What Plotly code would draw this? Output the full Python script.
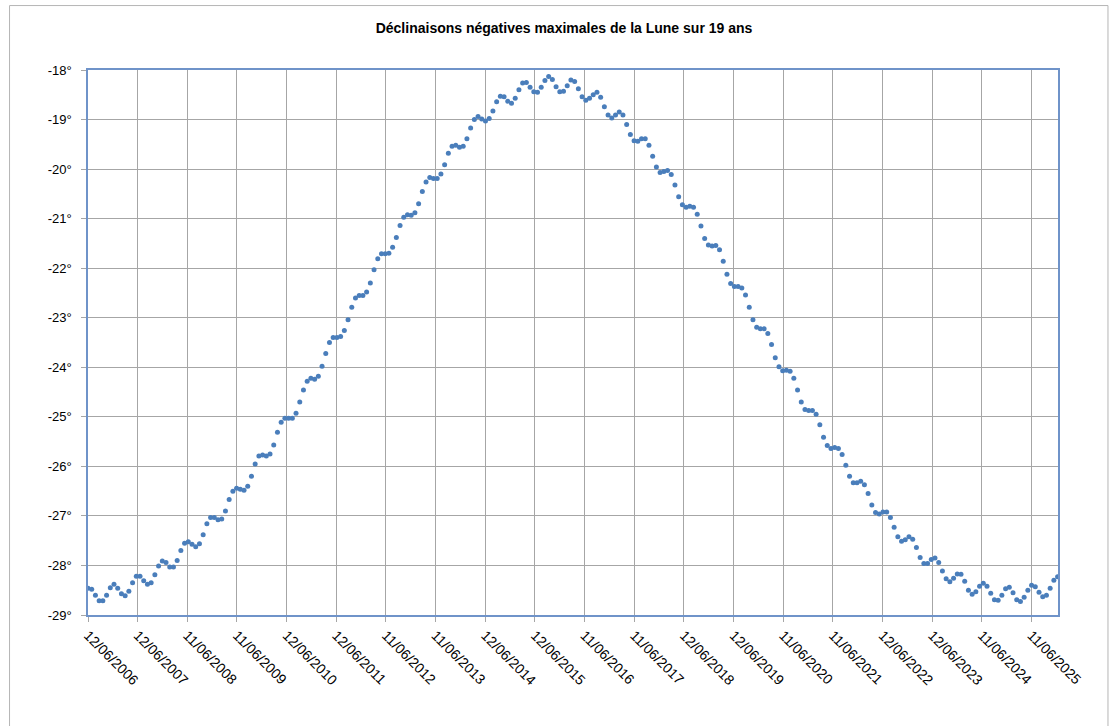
import pandas as pd
import plotly.graph_objects as go

# ---- data ----
start_date = "2006-06-12"
period_days = 27.3216  # one point per tropical month

declinations = [
    -28.46, -28.48, -28.60, -28.71, -28.71, -28.60, -28.45, -28.38, -28.46, -28.57,
    -28.61, -28.52, -28.35, -28.22, -28.22, -28.31, -28.38, -28.35, -28.19, -28.01,
    -27.91, -27.94, -28.03, -28.03, -27.90, -27.70, -27.55, -27.52, -27.57, -27.62,
    -27.56, -27.38, -27.16, -27.03, -27.03, -27.08, -27.06, -26.90, -26.67, -26.50,
    -26.44, -26.46, -26.48, -26.40, -26.20, -25.95, -25.79, -25.77, -25.79, -25.75,
    -25.57, -25.31, -25.11, -25.03, -25.03, -25.03, -24.93, -24.70, -24.46, -24.28,
    -24.22, -24.24, -24.18, -23.98, -23.72, -23.50, -23.40, -23.40, -23.38, -23.26,
    -23.04, -22.79, -22.60, -22.55, -22.55, -22.48, -22.30, -22.03, -21.81, -21.71,
    -21.71, -21.70, -21.58, -21.38, -21.14, -20.97, -20.92, -20.93, -20.88, -20.70,
    -20.45, -20.26, -20.17, -20.19, -20.19, -20.10, -19.91, -19.68, -19.54, -19.52,
    -19.56, -19.54, -19.39, -19.17, -19.00, -18.94, -18.99, -19.03, -18.98, -18.83,
    -18.64, -18.53, -18.54, -18.63, -18.67, -18.57, -18.40, -18.26, -18.25, -18.35,
    -18.44, -18.45, -18.35, -18.21, -18.13, -18.19, -18.34, -18.44, -18.43, -18.32,
    -18.20, -18.23, -18.38, -18.54, -18.61, -18.57, -18.50, -18.45, -18.55, -18.74,
    -18.91, -18.97, -18.91, -18.85, -18.91, -19.10, -19.30, -19.43, -19.44, -19.39,
    -19.39, -19.52, -19.74, -19.96, -20.07, -20.05, -20.03, -20.11, -20.32, -20.56,
    -20.72, -20.77, -20.75, -20.77, -20.91, -21.15, -21.40, -21.53, -21.55, -21.54,
    -21.63, -21.86, -22.12, -22.31, -22.37, -22.37, -22.40, -22.54, -22.79, -23.04,
    -23.19, -23.22, -23.22, -23.32, -23.54, -23.81, -23.99, -24.07, -24.06, -24.08,
    -24.22, -24.46, -24.70, -24.85, -24.87, -24.87, -24.95, -25.16, -25.41, -25.58,
    -25.64, -25.62, -25.64, -25.76, -25.98, -26.20, -26.33, -26.33, -26.30, -26.37,
    -26.55, -26.78, -26.93, -26.96, -26.92, -26.92, -27.03, -27.23, -27.42, -27.51,
    -27.48, -27.42, -27.47, -27.64, -27.84, -27.96, -27.96, -27.88, -27.85, -27.94,
    -28.11, -28.27, -28.33, -28.26, -28.17, -28.18, -28.32, -28.50, -28.58, -28.53,
    -28.42, -28.36, -28.42, -28.56, -28.69, -28.70, -28.60, -28.47, -28.44, -28.55,
    -28.69, -28.73, -28.64, -28.50, -28.40, -28.43, -28.54, -28.63, -28.60, -28.46,
    -28.30, -28.23,
]

x_tick_labels = [
    "12/06/2006", "12/06/2007", "11/06/2008", "11/06/2009", "12/06/2010",
    "12/06/2011", "11/06/2012", "11/06/2013", "12/06/2014", "12/06/2015",
    "11/06/2016", "11/06/2017", "12/06/2018", "12/06/2019", "11/06/2020",
    "11/06/2021", "12/06/2022", "12/06/2023", "11/06/2024", "11/06/2025",
]
y_tick_values = [-18, -19, -20, -21, -22, -23, -24, -25, -26, -27, -28, -29]
y_tick_labels = ["-18°", "-19°", "-20°", "-21°", "-22°", "-23°",
                 "-24°", "-25°", "-26°", "-27°", "-28°", "-29°"]

title_text = "Déclinaisons négatives maximales de la Lune sur 19 ans"

# ---- build ----
t0 = pd.Timestamp(start_date)
dates = [t0 + pd.Timedelta(days=i * period_days) for i in range(len(declinations))]
tick_dates = [pd.to_datetime(s, dayfirst=True) for s in x_tick_labels]
x_end = t0 + pd.Timedelta(days=7134)

W, H = 1113, 726
L, R, T, B = 88, 1058.5, 70, 615.5

fig = go.Figure(go.Scatter(
    x=dates, y=declinations, mode="markers",
    marker=dict(color="#4a7ebb", size=5),
    hoverinfo="x+y",
))

grid = "#a6a6a6"
axis_line = "#6f93c9"

fig.update_layout(
    width=W, height=H,
    margin=dict(l=L, r=W - R, t=T, b=H - B, pad=0),
    paper_bgcolor="white", plot_bgcolor="white",
    showlegend=False,
    font=dict(family="Liberation Sans, Arial, sans-serif", size=13, color="black"),
    title=dict(text="<b>" + title_text + "</b>", x=564 / W, xref="container",
               xanchor="center", y=1 - 28 / H, yref="container", yanchor="middle",
               font=dict(size=14, color="black")),
    xaxis=dict(
        type="date", range=[t0, x_end],
        tickmode="array", tickvals=tick_dates, ticktext=x_tick_labels,
        tickangle=45, ticks="outside", ticklen=5, tickcolor=grid,
        tickfont=dict(size=14),
        showgrid=True, gridcolor=grid, gridwidth=1.3,
        showline=True, linecolor=axis_line, linewidth=1.5, mirror=True,
        zeroline=False,
    ),
    yaxis=dict(
        range=[-29, -18],
        tickmode="array", tickvals=y_tick_values, ticktext=y_tick_labels,
        ticks="outside", ticklen=5, tickcolor=grid, ticklabelstandoff=7,
        showgrid=True, gridcolor=grid, gridwidth=1.3,
        showline=True, linecolor=axis_line, linewidth=1.5, mirror=True,
        zeroline=False,
    ),
)

# chart-area frame (left, top, right), expressed in paper coords
def px(xp):
    return (xp - L) / (R - L)

def py(yp):
    return (B - yp) / (B - T)

frame = "#b5b5b5"
for x0, y0, x1, y1 in [(9.5, 5.5, 1108.5, 5.5), (9.5, 5.5, 9.5, 730), (1108.5, 5.5, 1108.5, 730)]:
    fig.add_shape(type="line", xref="paper", yref="paper",
                  x0=px(x0), y0=py(y0), x1=px(x1), y1=py(y1),
                  line=dict(color=frame, width=1))

fig.write_html("out.html", config={"displayModeBar": False},
               post_script="document.body.style.margin='0';")
